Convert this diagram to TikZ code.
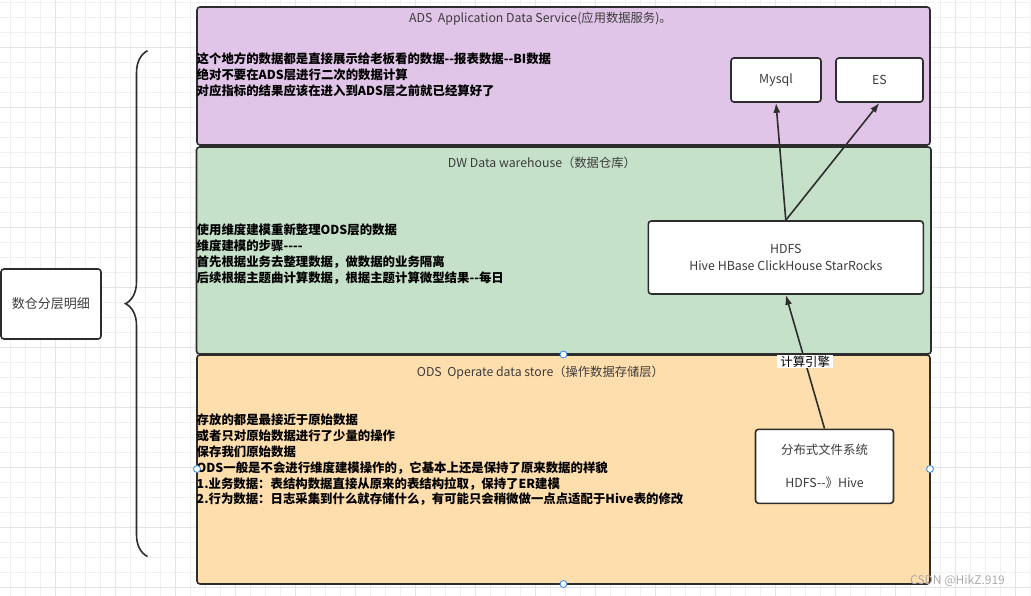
\documentclass[tikz,border=0pt]{standalone}
\usepackage{fontspec}
\setmainfont{Noto Sans CJK SC}
\usepackage{xcolor}
\usetikzlibrary{arrows.meta}
\usetikzlibrary{decorations.pathreplacing}

\definecolor{adsfill}{RGB}{225,197,232}
\definecolor{dwfill}{RGB}{198,225,202}
\definecolor{odsfill}{RGB}{255,222,173}
\definecolor{edge}{RGB}{45,45,45}
\definecolor{title}{RGB}{60,60,60}
\definecolor{handle}{RGB}{52,136,230}
\definecolor{minorline}{RGB}{240,240,240}
\definecolor{majorline}{RGB}{228,228,228}

\begin{document}
\begin{tikzpicture}
	[x=1pt,y=-1pt,
	layer/.style={draw=edge,line width=1.6pt,rounded corners=3pt,inner sep=0},
	box/.style={draw=edge,line width=1.6pt,rounded corners=3pt,fill=white,inner sep=0,text=title,align=center,font=\fontsize{12.4}{16.4}\selectfont},
	caption/.style={text=title,inner sep=0,anchor=west,font=\fontsize{12.3}{16}\selectfont},
	notes/.style={text=black,inner sep=0,anchor=west,align=left,font=\bfseries\fontsize{12.4}{15.8}\selectfont},
	flow/.style={draw=edge,line width=1.6pt,-{Latex[length=10pt,width=7pt]}},
	minorgrid/.style={draw=minorline,line width=0.8pt},
	majorgrid/.style={draw=majorline,line width=0.8pt}]
	\useasboundingbox (0,0) rectangle (1031,596);
	% canvas grid
	\foreach \k in {0,...,68} \draw[minorgrid] ({10.7+15*\k},0) -- ({10.7+15*\k},596);
	\foreach \k in {0,...,39} \draw[minorgrid] (0,{2.3+15*\k}) -- (1031,{2.3+15*\k});
	\foreach \k in {0,...,16} \draw[majorgrid] ({55.7+60*\k},0) -- ({55.7+60*\k},596);
	\foreach \k in {0,...,9} \draw[majorgrid] (0,{47.3+60*\k}) -- (1031,{47.3+60*\k});
	% layers
	\node [layer,fill=adsfill,minimum width=733,minimum height=138] (ads) at (563.5,76) {};
	\node [layer,fill=dwfill,minimum width=734.5,minimum height=207] (dw) at (563.75,250.5) {};
	\node [layer,fill=odsfill,minimum width=733,minimum height=229] (ods) at (563.5,469.5) {};
	\node [caption] (adstitle) at (409,19) {ADS\ \ Application Data Service(应用数据服务)。};
	\node [caption] (dwtitle) at (447.7,163) {DW Data warehouse（数据仓库）};
	\node [caption] (odstitle) at (416.7,372.7) {ODS\ \ Operate data store（操作数据存储层）};
	\node [notes] (adsnotes) at (196.5,75) {这个地方的数据都是直接展示给老板看的数据-{}-报表数据-{}-BI数据\\绝对不要在ADS层进行二次的数据计算\\对应指标的结果应该在进入到ADS层之前就已经算好了};
	\node [notes] (dwnotes) at (196.5,254) {使用维度建模重新整理ODS层的数据\\维度建模的步骤-{}-{}-{}-\\首先根据业务去整理数据，做数据的业务隔离\\后续根据主题曲计算数据，根据主题计算微型结果-{}-每日};
	\node [notes] (odsnotes) at (196.5,460) {存放的都是最接近于原始数据\\或者只对原始数据进行了少量的操作\\保存我们原始数据\\ODS一般是不会进行维度建模操作的，它基本上还是保持了原来数据的样貌\\1.业务数据：表结构数据直接从原来的表结构拉取，保持了ER建模\\2.行为数据：日志采集到什么就存储什么，有可能只会稍微做一点点适配于Hive表的修改};
	% stores
	\node [box,minimum width=90,minimum height=44] (mysql) at (776,80) {Mysql};
	\node [box,minimum width=87,minimum height=44] (es) at (879.5,80) {ES};
	\node [box,minimum width=275,minimum height=73] (hdfs) at (785.8,257.5) {HDFS\\Hive HBase ClickHouse StarRocks};
	\node [box,minimum width=138,minimum height=74] (dfs) at (824.5,466.3) {分布式文件系统\\[16.6pt]HDFS-{}-》Hive};
	\node [box,minimum width=100,minimum height=70,font=\fontsize{13}{16}\selectfont] (summary) at (51,304) {数仓分层明细};
	\draw [draw=edge,line width=1.6pt,decorate,decoration={brace,amplitude=22pt,aspect=0.5}] (147.5,556.5) -- (147.5,50.8);
	\draw [flow] (hdfs.north) -- (mysql.south);
	\draw [flow] (hdfs.north) -- (es.south);
	\draw [flow] (dfs.north) -- node [fill=white,inner xsep=3pt,inner ysep=1pt,text=black,font=\fontsize{12.4}{14}\selectfont] (engine) {计算引擎} (hdfs.south);
	% selection handles
	\foreach \hx/\hy in {563.5/354.5,197/469,930/469,563.5/584}
		\draw [handle,fill=white,line width=0.8pt] (\hx,\hy) circle [radius=3.5pt];
	\node [text=gray!65,inner sep=0,anchor=west,font=\fontsize{12}{14}\selectfont] (mark) at (910,581) {CSDN @HikZ.919};
\end{tikzpicture}
\end{document}
